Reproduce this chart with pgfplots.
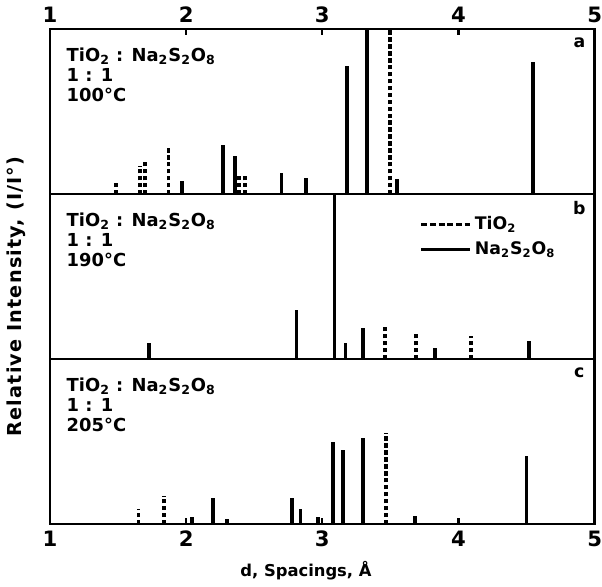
\documentclass[border=0pt]{standalone}
\usepackage{fontspec}
\setmainfont{Liberation Sans}
\newfontfamily\dv{DejaVu Sans}
\newfontfamily\dvw[LetterSpace=6]{DejaVu Sans}
\usepackage{pgfplots}
\pgfplotsset{compat=1.18}
\begin{document}
\begin{tikzpicture}
\pgfplotsset{
  xrd/.style={width=283pt, height=85.7pt, scale only axis,
    xmin=1, xmax=5, ymin=0, ymax=100, ytick=\empty,
    axis line style={line width=1.3pt},
    major tick length=3pt, tick style={line width=1.1pt, black},
    /pgf/number format/assume math mode=true,
    tick label style={font=\dv\bfseries\fontsize{11}{13}\selectfont, inner xsep=0pt},
    clip=false},
  ti/.style={ycomb, black, line width=2pt, dash pattern=on 2.3pt off 1.3pt, mark=none},
  na/.style={ycomb, black, line width=2pt, mark=none},
}
\tikzset{
  ann/.style={anchor=north west, align=left, inner sep=0pt,
    font=\dv\bfseries\fontsize{9.3}{10.5}\selectfont},
  lab/.style={font=\dv\bfseries\fontsize{9}{10}\selectfont},
}
% (a) 100 C
\begin{axis}[xrd, name=pa, xtick={1,2,3,4,5}, xtick pos=right, xticklabel pos=right]
\addplot[ti] coordinates {(1.485,8) (1.66,17) (1.70,21) (1.87,29) (2.39,11) (2.43,12) (3.50,100)};
\addplot[na] coordinates {(1.97,8) (2.27,30) (2.36,23) (2.70,13) (2.88,10) (3.18,78) (3.33,100) (3.55,9) (4.55,80)};
\node[ann] at (rel axis cs:0.03,0.89) {TiO\textsubscript{2} : Na\textsubscript{2}S\textsubscript{2}O\textsubscript{8}\\1 : 1\\100°C};
\node[lab] at (rel axis cs:0.972,0.915) {a};
\end{axis}
% (b) 190 C
\begin{axis}[xrd, name=pb, at={(pa.south west)}, anchor=north west, xtick=\empty,
  ylabel={Relative Intensity, (I/I°)},
  ylabel style={at={(rel axis cs:-0.033,0.38)}, anchor=south, font=\dvw\bfseries\fontsize{10}{11}\selectfont},
  legend cell align=left,
  legend style={draw=none, fill=none, at={(rel axis cs:0.668,0.915)}, anchor=north west,
    font=\dv\bfseries\fontsize{9}{10}\selectfont, row sep=1pt}]
\addlegendimage{legend image code/.code={\draw[black, line width=1.5pt, dash pattern=on 3pt off 1.5pt] (-0.3cm,0cm) -- (0.58cm,0cm);}}
\addlegendentry{TiO\textsubscript{2}}
\addlegendimage{legend image code/.code={\draw[black, line width=1.5pt] (-0.3cm,0cm) -- (0.58cm,0cm);}}
\addlegendentry{Na\textsubscript{2}S\textsubscript{2}O\textsubscript{8}}
\addplot[ti, forget plot] coordinates {(3.46,20) (3.69,16) (4.09,14)};
\addplot[na, forget plot] coordinates {(1.73,10) (2.81,30) (3.09,100) (3.17,10) (3.30,19) (3.83,7) (4.52,11)};
\node[ann] at (rel axis cs:0.03,0.89) {TiO\textsubscript{2} : Na\textsubscript{2}S\textsubscript{2}O\textsubscript{8}\\1 : 1\\190°C};
\node[lab] at (rel axis cs:0.972,0.915) {b};
\end{axis}
% (c) 205 C
\begin{axis}[xrd, name=pc, at={(pb.south west)}, anchor=north west,
  xtick={1,2,3,4,5}, xtick pos=left, xticklabel pos=left,
  xlabel={d, Spacings, Å},
  xlabel style={at={(rel axis cs:0.47,0)}, below, yshift=-16pt, font=\dv\bfseries\fontsize{8.5}{10}\selectfont}]
\addplot[ti] coordinates {(1.65,9) (1.84,17) (3.47,55)};
\addplot[na] coordinates {(2.04,4) (2.20,16) (2.30,3) (2.78,16) (2.84,9) (2.97,4) (3.08,50) (3.15,45) (3.30,52) (3.68,5) (4.00,3) (4.50,41)};
\node[ann] at (rel axis cs:0.03,0.89) {TiO\textsubscript{2} : Na\textsubscript{2}S\textsubscript{2}O\textsubscript{8}\\1 : 1\\205°C};
\node[lab] at (rel axis cs:0.972,0.915) {c};
\end{axis}
\end{tikzpicture}
\end{document}
